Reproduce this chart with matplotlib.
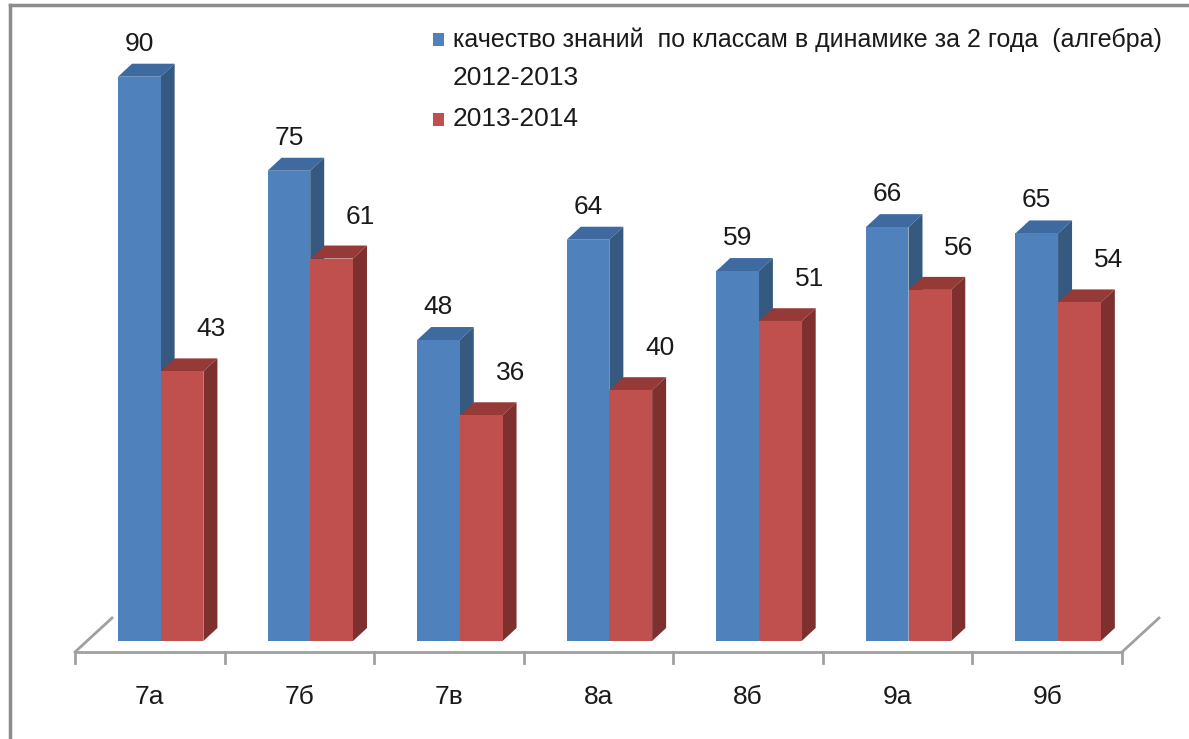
import matplotlib
matplotlib.use("Agg")
import matplotlib.pyplot as plt
from matplotlib.patches import Polygon, Rectangle
from matplotlib.lines import Line2D
import numpy as np

plt.rcParams['font.family'] = ['Liberation Sans', 'DejaVu Sans']

# data
classes = ['7а', '7б', '7в', '8а', '8б', '9а', '9б']
vals_2012 = [90, 75, 48, 64, 59, 66, 65]
vals_2013 = [43, 61, 36, 40, 51, 56, 54]
series_names = ['качество знаний  по классам в динамике за 2 года  (алгебра)\n2012-2013',
                '2013-2014']

# colours (front, top, side)
blue = ('#4F81BD', '#3E6AA0', '#36597F')
red = ('#C0504D', '#953A37', '#7D302D')

W, H = 1189, 739
fig = plt.figure(figsize=(W / 100, H / 100), dpi=100)
ax = fig.add_axes([0, 0, 1, 1])
ax.set_axis_off()

# map axes so that the plot sits where the original chart is
px_x = 1047 / 7.0          # px per category
px_y = 6.27                # px per value unit
base_px = 641              # y pixel (from top) of value 0
left_px = 75
ax.set_xlim(-0.5 - left_px / px_x, -0.5 + (W - left_px) / px_x)
ax.set_ylim(-(H - base_px) / px_y, base_px / px_y)

bw = 0.285
dx = 14 / px_x
dy = 13 / px_y
x = np.arange(len(classes))
fs = 19
tc = '#1a1a1a'


def bar3d(xc, v, cols, z):
    x0, x1 = xc - bw / 2, xc + bw / 2
    ax.bar(xc, v, width=bw, color=cols[0], zorder=z + 0.2, linewidth=0)
    top = Polygon([(x0, v), (x1, v), (x1 + dx, v + dy), (x0 + dx, v + dy)],
                  closed=True, facecolor=cols[1], edgecolor='none', zorder=z)
    side = Polygon([(x1, 0), (x1, v), (x1 + dx, v + dy), (x1 + dx, dy)],
                   closed=True, facecolor=cols[2], edgecolor='none', zorder=z)
    ax.add_patch(top)
    ax.add_patch(side)


for i in range(len(classes)):
    bar3d(x[i] - 0.07, vals_2012[i], blue, 3 + i * 2)
    bar3d(x[i] + 0.216, vals_2013[i], red, 4 + i * 2)
    ax.text(x[i] - 0.07, vals_2012[i] + 33 / px_y, str(vals_2012[i]),
            ha='center', va='center', fontsize=fs, color=tc)
    ax.text(x[i] + 0.216 + 29 / px_x, vals_2013[i] + 42 / px_y, str(vals_2013[i]),
            ha='center', va='center', fontsize=fs, color=tc)
    ax.text(x[i], -(697 - base_px) / px_y, classes[i],
            ha='center', va='center', fontsize=fs, color=tc)

# floor / category axis
gray = '#A0A0A0'
fy = -11 / px_y
ax.plot([-0.5, len(classes) - 0.5], [fy, fy], color=gray, lw=2, zorder=1)
for t in np.arange(-0.5, len(classes), 1.0):
    ax.plot([t, t], [fy, fy - 11 / px_y], color=gray, lw=2, zorder=1)
for xs in (-0.5, len(classes) - 0.5):
    ax.plot([xs, xs + 37 / px_x], [fy, fy + 34 / px_y], color=gray, lw=2, zorder=1)

# chart frame
fig.add_artist(Line2D([9.5 / W, 9.5 / W], [0, 1 - 5 / H], color='#8C8C8C', lw=2.5))
fig.add_artist(Line2D([9.5 / W, 1], [1 - 5 / H, 1 - 5 / H], color='#8C8C8C', lw=2.5))

# legend
fig.add_artist(Rectangle((433 / W, 1 - 46 / H), 11 / W, 13 / H,
                         facecolor=blue[0], edgecolor='none'))
fig.add_artist(Rectangle((433 / W, 1 - 126 / H), 11 / W, 13 / H,
                         facecolor=red[0], edgecolor='none'))
l1, l2 = series_names[0].split('\n')
fig.text(453 / W, 1 - 40 / H, l1, ha='left', va='center', fontsize=18, color=tc)
fig.text(453 / W, 1 - 78 / H, l2, ha='left', va='center', fontsize=fs, color=tc)
fig.text(453 / W, 1 - 119 / H, series_names[1], ha='left', va='center', fontsize=fs, color=tc)

fig.savefig('out.png', dpi=100)
